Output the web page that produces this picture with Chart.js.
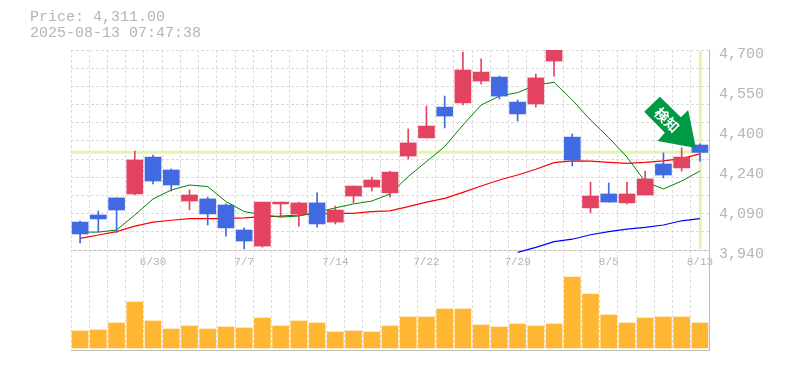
<!DOCTYPE html>
<html>
<head>
<meta charset="utf-8">
<style>
  html, body { margin: 0; padding: 0; background: #fff; }
  #wrap { position: relative; width: 785px; height: 370px; overflow: hidden; }
  #info { position: absolute; left: 30px; top: 10px; font: 15px/16px "Liberation Mono", monospace; color: #b5b5b5; white-space: pre; }
  canvas { position: absolute; left: 0; top: 0; }
</style>
<script src="https://cdn.jsdelivr.net/npm/chart.js@4"></script>
</head>
<body>
<div id="wrap">
  <canvas id="chart" width="785" height="370"></canvas>
  <div id="info">Price: 4,311.00
2025-08-13 07:47:38</div>
</div>
<script>
var dates = ['6/24','6/25','6/26','6/27','6/30','7/1','7/2','7/3','7/4','7/7','7/8','7/9','7/10','7/11','7/14','7/15','7/16','7/17','7/18','7/22','7/23','7/24','7/25','7/28','7/29','7/30','7/31','8/1','8/4','8/5','8/6','8/7','8/8','8/12','8/13'];
var shownDates = ['6/30','7/7','7/14','7/22','7/29','8/5','8/13'];

var opens  = [4046,4073,4138,4153,4293,4244,4126,4134,4111,4016,3955,4115,4077,4119,4046,4145,4179,4157,4297,4366,4483,4499,4582,4597,4502,4495,4658,4369,4100,4153,4119,4149,4267,4252,4339];
var closes = [4001,4058,4092,4282,4202,4187,4149,4077,4024,3974,4122,4122,4119,4039,4092,4183,4206,4236,4347,4411,4449,4624,4616,4525,4457,4594,4720,4282,4145,4122,4153,4210,4225,4293,4311];
var highs  = [4050,4088,4138,4316,4301,4248,4168,4141,4115,4024,4122,4122,4122,4157,4107,4183,4217,4240,4400,4487,4525,4692,4666,4601,4510,4609,4730,4381,4198,4195,4198,4240,4309,4328,4343];
var lows   = [3967,4008,4006,4149,4191,4164,4092,4035,3993,3944,3951,4069,4031,4027,4039,4119,4164,4141,4286,4366,4404,4491,4571,4514,4430,4483,4601,4259,4081,4122,4115,4149,4214,4240,4278];

var maShort = [4008,4008,4016,4073,4134,4168,4187,4181,4124,4086,4074,4065,4069,4084,4100,4115,4126,4153,4219,4276,4333,4415,4491,4525,4538,4567,4577,4510,4434,4367,4293,4200,4172,4202,4240];
var maMid   = [3984,3997,4010,4031,4046,4053,4059,4059,4059,4062,4067,4069,4073,4077,4079,4079,4086,4089,4105,4122,4136,4159,4183,4206,4225,4247,4272,4279,4278,4273,4269,4273,4279,4287,4305];
var maLong  = [null,null,null,null,null,null,null,null,null,null,null,null,null,null,null,null,null,null,null,null,null,null,null,null,3931,3950,3972,3981,3998,4010,4019,4026,4035,4051,4059];

var volumes = [17,18,25,46,27,19,22,19,21,20,30,22,27,25,16,17,16,22,31,31,39,39,23,21,24,22,24,71,54,33,25,30,31,31,25];

var priceTicks = [3940,4092,4244,4396,4548,4700];
var priceTickLabels = ['3,940','4,090','4,240','4,400','4,550','4,700'];
var currentPrice = 4311;

var UP = '#E34360', DOWN = '#4169E1', GRID = '#dddddd', AXIS = '#bbbbbb', TEXT = '#b5b5b5', MARK = '#E5F5A8';

var candleColors = opens.map(function(o, i) { return closes[i] >= o ? UP : DOWN; });

// crosshair under the candles, signal arrow on top
var overlays = {
  id: 'overlays',
  beforeDatasetsDraw: function(chart) {
    var ctx = chart.ctx, area = chart.chartArea;
    var x = chart.scales.x.getPixelForValue(dates.length - 1);
    var y = chart.scales.yPrice.getPixelForValue(currentPrice);
    ctx.save();
    ctx.strokeStyle = MARK;
    ctx.lineWidth = 3;
    ctx.beginPath();
    ctx.moveTo(area.left - 1, y);
    ctx.lineTo(area.right + 1, y);
    ctx.moveTo(x + 0.5, area.top + 1);
    ctx.lineTo(x + 0.5, chart.scales.yPrice.bottom - 1);
    ctx.stroke();
    ctx.restore();
  },
  afterDatasetsDraw: function(chart) {
    var ctx = chart.ctx;
    var tipX = chart.scales.x.getPixelForValue(dates.length - 1) - 4;
    var tipY = chart.scales.yPrice.getPixelForValue(currentPrice) - 4.4;
    var shape = [[-36,-51.3],[-51.7,-36.3],[-31,-15.3],[-38.3,-7],[0,0],[-7.7,-38],[-15,-30.7]];
    ctx.save();
    ctx.translate(tipX, tipY);
    ctx.fillStyle = '#009A44';
    ctx.beginPath();
    shape.forEach(function(p, i) { if (i === 0) ctx.moveTo(p[0], p[1]); else ctx.lineTo(p[0], p[1]); });
    ctx.closePath();
    ctx.fill();
    ctx.translate(-29, -28);
    ctx.rotate(Math.PI / 4);
    ctx.fillStyle = '#ffffff';
    ctx.font = 'bold 14px "Noto Sans CJK JP"';
    ctx.textAlign = 'center';
    ctx.textBaseline = 'middle';
    ctx.fillText('検知', 0, 0);
    ctx.restore();
  }
};

new Chart(document.getElementById('chart').getContext('2d'), {
  type: 'bar',
  plugins: [overlays],
  data: {
    labels: dates,
    datasets: [
      { type: 'bar', data: opens.map(function(o, i) { return [o, closes[i]]; }), backgroundColor: candleColors, barThickness: 16, grouped: false, yAxisID: 'yPrice', order: 1 },
      { type: 'bar', data: lows.map(function(l, i) { return [l, highs[i]]; }), backgroundColor: candleColors, barThickness: 1, grouped: false, yAxisID: 'yPrice', order: 2 },
      { type: 'line', data: maShort, borderColor: '#008000', borderWidth: 1, pointRadius: 0, tension: 0, yAxisID: 'yPrice', order: 3 },
      { type: 'line', data: maMid, borderColor: '#ff0000', borderWidth: 1.2, pointRadius: 0, tension: 0, yAxisID: 'yPrice', order: 4 },
      { type: 'line', data: maLong, borderColor: '#0000ff', borderWidth: 1.2, pointRadius: 0, tension: 0, yAxisID: 'yPrice', clip: 4, order: 5 },
      { type: 'bar', data: volumes, backgroundColor: '#FFB733', barThickness: 16, grouped: false, yAxisID: 'yVol', order: 6 }
    ]
  },
  options: {
    responsive: false,
    animation: false,
    events: [],
    layout: { padding: { left: 71, top: 50, right: 0, bottom: 20 } },
    plugins: { legend: { display: false }, tooltip: { enabled: false } },
    scales: {
      x: {
        position: { yVol: 98 },
        offset: true,
        border: { display: false, dash: [3, 2] },
        grid: { offset: true, color: GRID, drawTicks: false },
        ticks: {
          autoSkip: false, maxRotation: 0, padding: 5, color: TEXT,
          font: { family: '"Liberation Mono"', size: 11 },
          callback: function(v) { var d = dates[v]; return shownDates.indexOf(d) >= 0 ? d : ''; }
        }
      },
      yPrice: {
        position: 'right', stack: 'panels', stackWeight: 2,
        min: 3940, max: 4700,
        afterFit: function(s) { s.width = 76; },
        afterBuildTicks: function(s) { s.ticks = priceTicks.map(function(v) { return { value: v }; }); },
        border: { display: true, color: AXIS },
        grid: { display: false, drawTicks: false },
        ticks: {
          autoSkip: false, padding: 10, labelOffset: 4, color: TEXT,
          font: { family: '"Liberation Mono"', size: 15 },
          callback: function(v, i) { return priceTickLabels[i]; }
        }
      },
      yVol: {
        position: 'right', stack: 'panels', stackWeight: 1,
        min: -2, max: 98,
        afterFit: function(s) { s.width = 76; },
        afterBuildTicks: function(s) { s.ticks = [{ value: -2 }, { value: 98 }]; },
        border: { display: true, color: AXIS },
        grid: { color: AXIS, lineWidth: 1, drawTicks: false },
        ticks: { display: false }
      },
      yGrid: {
        position: 'left', min: -5.5, max: 11,
        afterBuildTicks: function(s) {
          s.ticks = [0,1,2,3,4,5,6,7,8,9,10,11].map(function(v) { return { value: v }; });
        },
        border: { display: false, dash: [3, 2] },
        grid: { color: GRID, drawTicks: false },
        ticks: { display: false }
      }
    }
  }
});
</script>
</body>
</html>
